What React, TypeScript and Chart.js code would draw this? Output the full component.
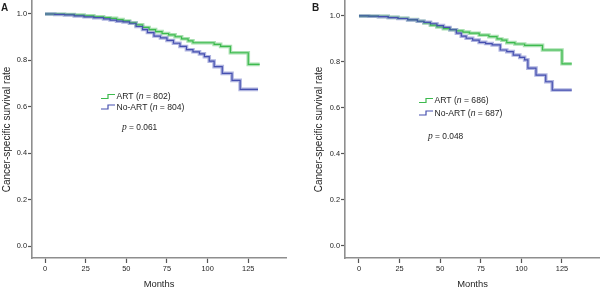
import React, { useEffect, useRef } from "react";
import { Chart, registerables } from "chart.js";

Chart.register(...registerables);

// ---------- data ----------
const tickMonths = [0, 25, 50, 75, 100, 125];
const tickRates = [0, 0.2, 0.4, 0.6, 0.8, 1.0];

// Panel A
const aArtMonths = [0, 6, 12, 18, 24, 30, 36, 40, 44, 48, 52, 56, 60, 64, 68, 72, 76, 80, 84, 88, 91, 104, 108, 114, 125, 132];
const aArtRates = [1.0, 0.999, 0.998, 0.995, 0.992, 0.988, 0.984, 0.981, 0.976, 0.97, 0.962, 0.953, 0.942, 0.933, 0.924, 0.916, 0.91, 0.902, 0.893, 0.884, 0.876, 0.869, 0.86, 0.833, 0.783, 0.783];
const aNoMonths = [0, 6, 12, 18, 24, 30, 36, 40, 44, 48, 52, 56, 60, 63, 67, 71, 75, 79, 83, 87, 91, 95, 98, 101, 104, 109, 115, 120, 131];
const aNoRates = [1.0, 0.998, 0.996, 0.992, 0.988, 0.984, 0.979, 0.974, 0.969, 0.966, 0.96, 0.946, 0.933, 0.92, 0.905, 0.897, 0.886, 0.874, 0.86, 0.846, 0.837, 0.828, 0.816, 0.797, 0.773, 0.744, 0.714, 0.675, 0.675];

// Panel B
const bArtMonths = [0, 6, 12, 18, 24, 30, 36, 40, 44, 48, 52, 56, 60, 64, 68, 74, 80, 85, 88, 91, 96, 102, 113, 125, 131];
const bArtRates = [1.0, 0.999, 0.998, 0.994, 0.99, 0.984, 0.977, 0.97, 0.96, 0.952, 0.945, 0.94, 0.935, 0.93, 0.925, 0.917, 0.91, 0.9, 0.895, 0.884, 0.878, 0.872, 0.852, 0.792, 0.792];
const bNoMonths = [0, 6, 12, 18, 24, 30, 36, 40, 44, 48, 52, 56, 60, 63, 66, 70, 74, 78, 82, 87, 91, 95, 99, 102, 104, 109, 115, 119, 131];
const bNoRates = [1.0, 0.999, 0.997, 0.993, 0.989, 0.983, 0.977, 0.972, 0.966, 0.958, 0.95, 0.94, 0.925, 0.912, 0.903, 0.895, 0.885, 0.88, 0.874, 0.852, 0.845, 0.83, 0.82, 0.809, 0.773, 0.743, 0.714, 0.678, 0.678];

const aLabels = { letter: "A", artN: "802", noN: "804", p: "0.061" };
const bLabels = { letter: "B", artN: "686", noN: "687", p: "0.048" };

// ---------- styles ----------
const SANS = "'Liberation Sans', Arial, Helvetica, sans-serif";
const SERIF = "'Liberation Serif', 'Times New Roman', serif";
const GREEN = "#3dba4e";
const GREEN_LIGHT = "rgba(140, 214, 150, 0.75)";
const BLUE = "#4650b0";
const BLUE_LIGHT = "rgba(150, 156, 214, 0.75)";
const TEXT = "#1e1e1e";

type Layout = {
  padLeft: number;
  padRight: number;
  yWidth: number;
  xMin: number;
  xMax: number;
  yMin: number;
  yMax: number;
  legX: number;
  legY1: number;
  legY2: number;
  pX: number;
  pY: number;
  letterX: number;
};

const layoutA: Layout = {
  padLeft: 0, padRight: 14, yWidth: 32, xMin: -8, xMax: 148.2, yMin: -0.0517, yMax: 1.056,
  legX: 101, legY1: 96.5, legY2: 107, pX: 122, pY: 127, letterX: 1,
};
const layoutB: Layout = {
  padLeft: 12, padRight: 0, yWidth: 33, xMin: -8.6, xMax: 148.4, yMin: -0.0522, yMax: 1.065,
  legX: 119, legY1: 100.5, legY2: 113, pX: 128, pY: 136, letterX: 12,
};

function pts(ms: number[], rs: number[]) {
  return ms.map((m, i) => ({ x: m, y: rs[i] }));
}

function drawLegendRow(ctx: CanvasRenderingContext2D, x: number, y: number, color: string, name: string, n: string) {
  ctx.save();
  ctx.strokeStyle = color;
  ctx.lineWidth = 1.2;
  ctx.beginPath();
  ctx.moveTo(x, y + 2);
  ctx.lineTo(x + 7, y + 2);
  ctx.lineTo(x + 7, y - 2);
  ctx.lineTo(x + 14, y - 2);
  ctx.stroke();
  ctx.fillStyle = TEXT;
  ctx.textBaseline = "middle";
  ctx.textAlign = "left";
  let tx = x + 15.5;
  ctx.font = `8.6px ${SANS}`;
  const p1 = `${name} (`;
  ctx.fillText(p1, tx, y + 0.5);
  tx += ctx.measureText(p1).width;
  ctx.font = `italic 8.6px ${SANS}`;
  ctx.fillText("n", tx, y + 0.5);
  tx += ctx.measureText("n").width;
  ctx.font = `8.6px ${SANS}`;
  ctx.fillText(` = ${n})`, tx, y + 0.5);
  ctx.restore();
}

function makeAnnotPlugin(lab: typeof aLabels, lay: Layout) {
  return {
    id: "annot" + lab.letter,
    afterDraw(chart: any) {
      const ctx: CanvasRenderingContext2D = chart.ctx;
      ctx.save();
      ctx.fillStyle = TEXT;
      ctx.textBaseline = "top";
      ctx.textAlign = "left";
      ctx.font = `bold 10px ${SANS}`;
      ctx.fillText(lab.letter, lay.letterX, 3);
      drawLegendRow(ctx, lay.legX, lay.legY1, GREEN, "ART", lab.artN);
      drawLegendRow(ctx, lay.legX, lay.legY2, BLUE, "No-ART", lab.noN);
      ctx.textBaseline = "middle";
      ctx.font = `italic 9.5px ${SERIF}`;
      ctx.fillText("p", lay.pX, lay.pY + 0.5);
      const w = ctx.measureText("p").width;
      ctx.font = `8.4px ${SANS}`;
      ctx.fillText(` = ${lab.p}`, lay.pX + w, lay.pY + 0.5);
      ctx.restore();
    },
  };
}

function Panel(props: {
  artM: number[]; artR: number[]; noM: number[]; noR: number[];
  lab: typeof aLabels; lay: Layout; left: number;
}) {
  const ref = useRef<HTMLCanvasElement | null>(null);
  useEffect(() => {
    if (!ref.current) return;
    const { artM, artR, noM, noR, lab, lay } = props;
    const common = { pointRadius: 0, stepped: true as const, fill: false, tension: 0 };
    const chart = new Chart(ref.current, {
      type: "line",
      data: {
        datasets: [
          { ...common, label: "ART halo", data: pts(artM, artR), borderColor: GREEN_LIGHT, borderWidth: 3.6, order: 4 },
          { ...common, label: "No-ART halo", data: pts(noM, noR), borderColor: BLUE_LIGHT, borderWidth: 3.6, order: 3 },
          { ...common, label: "ART", data: pts(artM, artR), borderColor: GREEN, borderWidth: 1.2, order: 2 },
          { ...common, label: "No-ART", data: pts(noM, noR), borderColor: BLUE, borderWidth: 1.2, order: 1 },
        ],
      },
      options: {
        animation: false,
        responsive: false,
        devicePixelRatio: 1,
        layout: { padding: { left: lay.padLeft, top: 1, right: lay.padRight, bottom: 0 } },
        plugins: { legend: { display: false }, tooltip: { enabled: false } },
        events: [],
        scales: {
          x: {
            type: "linear",
            min: lay.xMin,
            max: lay.xMax,
            afterBuildTicks: (s: any) => { s.ticks = tickMonths.map((v) => ({ value: v })); },
            afterFit: (s: any) => { s.height = 30; s.paddingLeft = 0; s.paddingRight = 0; },
            grid: { drawOnChartArea: false, drawTicks: true, tickLength: 5, tickColor: "#555", tickWidth: 1.2 },
            border: { display: true, color: "#8e8e8e", width: 1.6 },
            ticks: { font: { size: 7.4, family: SANS }, color: TEXT, padding: 1.5, maxRotation: 0, autoSkip: false },
            title: { display: true, text: "Months", font: { size: 9.4, family: SANS, lineHeight: 0.8 }, color: TEXT, padding: { top: 0, bottom: 0 } },
          },
          y: {
            type: "linear",
            min: lay.yMin,
            max: lay.yMax,
            afterBuildTicks: (s: any) => { s.ticks = tickRates.map((v) => ({ value: v })); },
            afterFit: (s: any) => { s.width = lay.yWidth; s.paddingTop = 0; s.paddingBottom = 0; },
            grid: { drawOnChartArea: false, drawTicks: true, tickLength: 4, tickColor: "#555", tickWidth: 1.2 },
            border: { display: true, color: "#8e8e8e", width: 1.6 },
            ticks: { font: { size: 7.4, family: SANS }, color: TEXT, padding: 1, callback: (v: any) => Number(v).toFixed(1) },
            title: { display: true, text: "Cancer-specific survival rate", font: { size: 10, family: SANS }, color: TEXT, padding: { top: 1, bottom: 0 } },
          },
        },
      },
      plugins: [makeAnnotPlugin(lab, lay)],
    } as any);
    return () => chart.destroy();
  }, []);
  return (
    <canvas
      ref={ref}
      width={300}
      height={288}
      style={{ position: "absolute", left: props.left, top: 0, width: 300, height: 288 }}
    />
  );
}

export default function App() {
  return (
    <div style={{ position: "fixed", left: 0, top: 0, width: 600, height: 288, background: "#fff", overflow: "hidden" }}>
      <Panel artM={aArtMonths} artR={aArtRates} noM={aNoMonths} noR={aNoRates} lab={aLabels} lay={layoutA} left={0} />
      <Panel artM={bArtMonths} artR={bArtRates} noM={bNoMonths} noR={bNoRates} lab={bLabels} lay={layoutB} left={300} />
    </div>
  );
}
